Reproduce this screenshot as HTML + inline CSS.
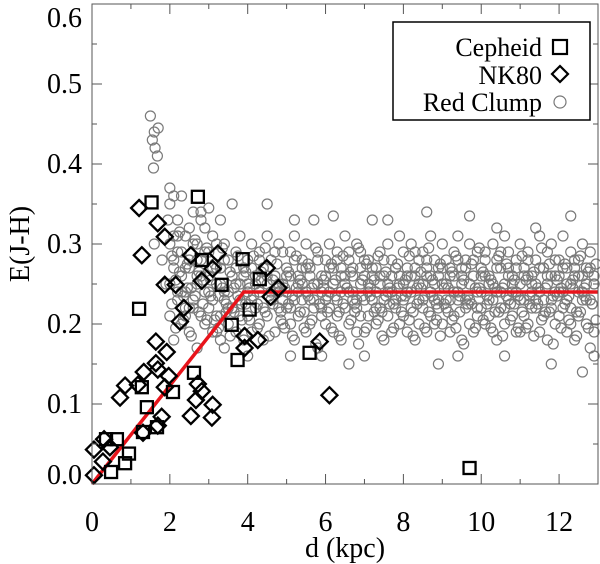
<!DOCTYPE html>
<html><head><meta charset="utf-8"><style>
html,body{margin:0;padding:0;background:#fff;}
svg{display:block;font-family:"Liberation Serif",serif;}
</style></head><body>
<svg id="chart" width="600" height="564" viewBox="0 0 600 564" xmlns="http://www.w3.org/2000/svg">
<g id="rc"></g>
<g id="fit"></g>
<g id="ceph"></g>
<g id="nk"></g>
<g id="axes"></g>
<g>
<rect x="393" y="22" width="197" height="98" fill="#fff" stroke="#000" stroke-width="1.5"/>
<text x="542" y="56" font-size="26" text-anchor="end">Cepheid</text>
<rect x="553" y="40" width="14" height="14" fill="none" stroke="#000" stroke-width="2.2"/>
<text x="542" y="84" font-size="26" text-anchor="end">NK80</text>
<polygon points="560,66 568,74 560,82 552,74" fill="none" stroke="#000" stroke-width="2.2"/>
<text x="542" y="111" font-size="26" text-anchor="end">Red Clump</text>
<circle cx="560" cy="102" r="6" fill="none" stroke="#777" stroke-width="1.2"/>
</g>
</svg>
<script>
const xTicks = [0,2,4,6,8,10,12];
const yTicks = [0.0,0.1,0.2,0.3,0.4,0.5,0.6];
const yTickLabels = ["0.0","0.1","0.2","0.3","0.4","0.5","0.6"];
const fitD = [0, 3.9, 13];
const fitE = [0, 0.24, 0.24];
const cephD = [1.53,2.72,2.82,3.87,4.31,3.33,1.21,4.05,3.59,3.74,2.62,1.28,2.08,1.41,0.64,0.95,0.85,0.49,0.36,1.31,1.67,5.59,9.7];
const cephE = [0.352,0.359,0.280,0.281,0.256,0.249,0.219,0.218,0.199,0.155,0.139,0.121,0.115,0.096,0.056,0.038,0.026,0.015,0.056,0.065,0.071,0.164,0.02];
const nkD = [1.21,1.69,1.87,1.28,2.54,3.23,3.10,2.82,1.87,2.15,2.36,2.26,3.92,4.26,3.92,4.49,4.79,4.59,5.85,1.64,1.92,1.64,1.33,1.69,1.97,0.85,0.72,1.18,1.87,2.72,2.82,2.67,3.10,2.54,3.08,1.79,1.69,1.31,0.31,0.46,0.05,0.28,0.05,6.10];
const nkE = [0.345,0.326,0.309,0.286,0.286,0.288,0.269,0.254,0.249,0.249,0.220,0.203,0.185,0.180,0.170,0.270,0.245,0.234,0.178,0.178,0.165,0.151,0.140,0.143,0.135,0.123,0.108,0.124,0.121,0.125,0.116,0.105,0.099,0.085,0.083,0.084,0.073,0.064,0.056,0.046,0.043,0.028,0.011,0.111];
const rcD = [2.0,2.1,2.2,2.3,2.4,2.5,2.6,2.7,2.8,2.9,3.0,3.1,3.2,3.3,3.4,3.5,3.6,3.7,3.8,3.9,4.0,4.1,4.2,4.3,4.4,4.5,4.6,4.7,4.8,4.9,5.0,5.1,5.2,5.3,5.4,5.5,5.6,5.7,5.8,5.9,6.0,6.1,6.2,6.3,6.4,6.5,6.6,6.7,6.8,6.9,7.0,7.1,7.2,7.3,7.4,7.5,7.6,7.7,7.8,7.9,8.0,8.1,8.2,8.3,8.4,8.5,8.6,8.7,8.8,8.9,9.0,9.1,9.2,9.3,9.4,9.5,9.6,9.7,9.8,9.9,10.0,10.1,10.2,10.3,10.4,10.5,10.6,10.7,10.8,10.9,11.0,11.1,11.2,11.3,11.4,11.5,11.6,11.7,11.8,11.9,12.0,12.1,12.2,12.3,12.4,12.5,12.6,12.7,12.8,12.9];
const rcD2 = [2.05,2.15,2.25,2.35,2.45,2.55,2.65,2.75,2.85,2.95,3.05,3.15,3.25,3.35,3.45,3.55,3.65,3.75,3.85,3.95,4.05,4.15,4.25,4.35,4.45,4.55,4.65,4.75,4.85,4.95,5.05,5.15,5.25,5.35,5.45,5.55,5.65,5.75,5.85,5.95,6.05,6.15,6.25,6.35,6.45,6.55,6.65,6.75,6.85,6.95,7.05,7.15,7.25,7.35,7.45,7.55,7.65,7.75,7.85,7.95,8.05,8.15,8.25,8.35,8.45,8.55,8.65,8.75,8.85,8.95,9.05,9.15,9.25,9.35,9.45,9.55,9.65,9.75,9.85,9.95,10.05,10.15,10.25,10.35,10.45,10.55,10.65,10.75,10.85,10.95,11.05,11.15,11.25,11.35,11.45,11.55,11.65,11.75,11.85,11.95,12.05,12.15,12.25,12.35,12.45,12.55,12.65,12.75,12.85,12.95];
const rcE1 = [.30,.27,.33,.29,.31,.28,.34,.30,.26,.32,.29,.31,.27,.33,.30,.28,.26,.29,.31,.27,.28,.30,.26,.29,.27,.31,.28,.26,.30,.29,.27,.29,.31,.26,.28,.30,.27,.33,.29,.26,.28,.30,.27,.29,.26,.31,.28,.27,.30,.29,.26,.28,.33,.27,.29,.26,.30,.28,.27,.31,.29,.27,.30,.26,.28,.29,.27,.31,.28,.26,.30,.28,.26,.29,.31,.27,.28,.30,.26,.29,.27,.29,.26,.30,.28,.27,.31,.29,.26,.28,.30,.27,.29,.26,.28,.31,.27,.29,.30,.26,.28,.31,.27,.29,.26,.28,.30,.27,.29,.26];
const rcE2 = [.25,.28,.23,.26,.24,.27,.22,.25,.28,.24,.26,.23,.25,.27,.24,.22,.26,.25,.23,.27,.25,.23,.26,.24,.27,.25,.23,.26,.24,.25,.24,.26,.23,.25,.27,.24,.26,.23,.25,.24,.26,.24,.25,.23,.27,.25,.24,.26,.23,.25,.23,.25,.27,.24,.26,.23,.25,.24,.27,.26,.25,.24,.26,.27,.23,.25,.26,.24,.25,.23,.27,.25,.23,.26,.24,.25,.27,.23,.26,.24,.24,.26,.25,.23,.27,.24,.25,.26,.24,.27,.25,.23,.26,.24,.25,.27,.23,.25,.26,.24,.26,.24,.23,.25,.27,.24,.26,.25,.23,.25];
const rcE3 = [.21,.18,.24,.20,.22,.19,.23,.17,.21,.20,.22,.19,.21,.18,.23,.20,.22,.19,.21,.18,.21,.19,.22,.20,.18,.21,.23,.19,.22,.20,.22,.20,.18,.21,.23,.19,.20,.22,.17,.21,.20,.22,.19,.21,.18,.22,.20,.23,.19,.21,.19,.21,.23,.20,.22,.18,.21,.19,.22,.20,.21,.19,.22,.18,.20,.23,.19,.21,.20,.22,.20,.22,.19,.21,.23,.18,.22,.20,.19,.21,.22,.20,.21,.19,.18,.22,.20,.23,.21,.19,.19,.21,.20,.22,.23,.19,.21,.18,.22,.20,.21,.22,.19,.20,.18,.21,.23,.20,.17,.19];
const rcE4 = [.35,.31,.29,.36,.27,.32,.30,.28,.33,.29,.24,.27,.30,.25,.28,.24,.22,.27,.25,.26,.24,.27,.25,.28,.22,.26,.24,.29,.25,.23,.26,.22,.28,.24,.25,.27,.23,.25,.28,.22,.23,.27,.25,.28,.24,.26,.29,.24,.22,.27,.28,.24,.26,.22,.25,.28,.24,.26,.23,.25,.23,.26,.24,.29,.25,.22,.28,.26,.23,.27,.25,.23,.27,.24,.28,.26,.23,.25,.28,.22,.26,.28,.23,.25,.24,.29,.22,.27,.25,.24,.23,.26,.28,.25,.22,.24,.27,.26,.23,.28,.24,.27,.25,.22,.28,.26,.24,.23,.27,.25];
const rcE5 = [.285,.255,.315,.235,.275,.245,.305,.265,.225,.295,.255,.275,.235,.295,.215,.265,.245,.285,.225,.265,.245,.285,.225,.265,.295,.235,.255,.275,.215,.245,.265,.235,.285,.255,.215,.275,.245,.295,.225,.255,.235,.275,.255,.215,.285,.245,.265,.225,.295,.255,.275,.235,.255,.285,.215,.265,.245,.225,.275,.235,.255,.285,.215,.245,.265,.235,.295,.255,.225,.275,.245,.215,.265,.285,.235,.255,.225,.275,.245,.295,.265,.235,.255,.215,.285,.245,.275,.225,.255,.235,.285,.255,.225,.265,.245,.295,.215,.275,.235,.255,.245,.275,.235,.255,.215,.285,.245,.265,.225,.275];
const rcE6 = [.225,.195,.265,.205,.245,.185,.235,.215,.255,.205,.235,.205,.195,.245,.225,.185,.215,.235,.205,.225,.205,.235,.195,.255,.215,.185,.225,.245,.205,.195,.225,.185,.245,.215,.195,.235,.205,.175,.225,.245,.215,.195,.235,.185,.225,.245,.205,.215,.175,.235,.195,.245,.215,.205,.185,.235,.225,.195,.245,.215,.235,.205,.185,.225,.245,.195,.215,.235,.205,.185,.225,.245,.205,.195,.215,.175,.235,.225,.195,.245,.205,.225,.195,.245,.215,.185,.235,.205,.225,.195,.215,.195,.235,.185,.225,.205,.245,.215,.175,.235,.195,.225,.205,.245,.185,.215,.235,.195,.225,.205];
const rcOutD = [1.5,1.6,1.7,1.55,1.62,1.68,1.58,2.0,2.1,2.8,3.0,3.6,4.5,5.2,6.2,7.6,8.6,9.7,12.3,11.4,10.4,5.1,5.9,7.0,8.9,10.6,11.8,12.9,6.6,9.4,3.4,4.0,12.6,1.6,1.8,1.9,2.3,2.5,2.7,2.2,1.95,2.4,3.2,2.9,3.3];
const rcOutE = [.46,.44,.445,.43,.42,.41,.395,.37,.36,.34,.345,.35,.35,.33,.335,.33,.34,.335,.335,.32,.32,.16,.16,.16,.15,.16,.15,.16,.15,.16,.17,.16,.14,.30,.28,.25,.24,.22,.26,.31,.33,.21,.19,.20,.21];

const NS = "http://www.w3.org/2000/svg";
const X0 = 92, X1 = 598, Y0 = 484, Y1 = 4;
const xMin = 0, xMax = 13, yMin = 0, yMax = 0.6;
function sx(d){ return X0 + (d - xMin) / (xMax - xMin) * (X1 - X0); }
function sy(e){ return Y0 - (e - yMin) / (yMax - yMin) * (Y0 - Y1); }
function mk(tag, attrs, parent){
  const el = document.createElementNS(NS, tag);
  for (const k in attrs) el.setAttribute(k, attrs[k]);
  parent.appendChild(el);
  return el;
}
const rc = document.getElementById('rc');
function circ(d, e){
  if (d > xMax + 0.1) return;
  const c = mk('circle', {cx: sx(d), cy: sy(e), r: 5, fill: 'none', stroke: '#7a7a7a', 'stroke-width': 1.2}, rc);
  
  
}
[rcE1, rcE2, rcE3, rcE4].forEach(arr => arr.forEach((e, i) => circ(rcD[i], e)));
[rcE5, rcE6].forEach(arr => arr.forEach((e, i) => circ(rcD2[i], e)));
rcOutD.forEach((d, i) => circ(d, rcOutE[i]));

const fit = document.getElementById('fit');
const pl = mk('polyline', {points: fitD.map((d, i) => sx(d) + ',' + sy(fitE[i])).join(' '), fill: 'none', stroke: '#e8141b', 'stroke-width': 3.5}, fit);



const ceph = document.getElementById('ceph');
cephD.forEach((d, i) => {
  const x = sx(d), y = sy(cephE[i]);
  const r = mk('rect', {x: x - 6, y: y - 6, width: 12, height: 12, fill: 'none', stroke: '#000', 'stroke-width': 2.3}, ceph);
  
  
});
const nk = document.getElementById('nk');
nkD.forEach((d, i) => {
  const x = sx(d), y = sy(nkE[i]);
  const p = mk('polygon', {points: `${x},${y-8} ${x+8},${y} ${x},${y+8} ${x-8},${y}`, fill: 'none', stroke: '#000', 'stroke-width': 2.3}, nk);
  
  
});

const ax = document.getElementById('axes');
const frame = mk('rect', {x: X0, y: Y1, width: X1 - X0, height: Y0 - Y1, fill: 'none', stroke: '#555', 'stroke-width': 1}, ax);


for (let v = 0; v <= 13; v += 1) {
  const x = sx(v), len = (v % 2 === 0) ? 10 : 5;
  mk('line', {x1: x, y1: Y0, x2: x, y2: Y0 - len, stroke: '#555'}, ax);
  mk('line', {x1: x, y1: Y1, x2: x, y2: Y1 + len, stroke: '#555'}, ax);
}
for (let k = 0; k <= 12; k++) {
  const y = sy(k * 0.05), len = (k % 2 === 0) ? 10 : 5;
  mk('line', {x1: X0, y1: y, x2: X0 + len, y2: y, stroke: '#555'}, ax);
  mk('line', {x1: X1, y1: y, x2: X1 - len, y2: y, stroke: '#555'}, ax);
}
xTicks.forEach(v => {
  const t = mk('text', {x: sx(v), y: 531, 'font-size': 28, 'text-anchor': 'middle'}, ax);
  t.textContent = v;
  
  
});
yTicks.forEach((v, i) => {
  const base = Math.max(Math.min(sy(v) + 9, 484), 27);
  const t = mk('text', {x: 82, y: base, 'font-size': 28, 'text-anchor': 'end'}, ax);
  t.textContent = yTickLabels[i];
  
  
});
const xt = mk('text', {x: 345, y: 557, 'font-size': 28, 'text-anchor': 'middle'}, ax);
xt.textContent = 'd (kpc)';


const yt = mk('text', {x: 0, y: 0, 'font-size': 28, 'text-anchor': 'middle', transform: 'translate(29,244) rotate(-90)'}, ax);
yt.textContent = 'E(J-H)';


</script>
</body></html>
